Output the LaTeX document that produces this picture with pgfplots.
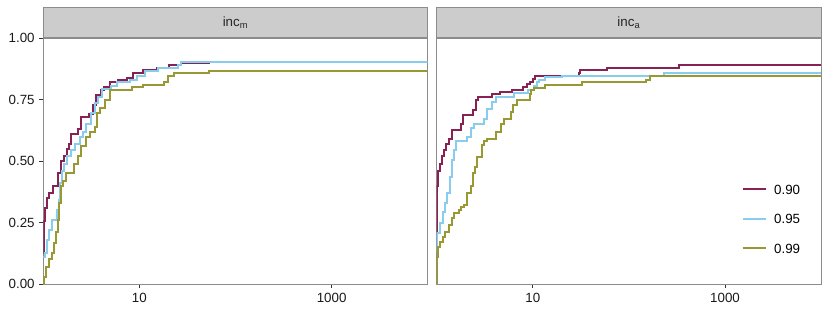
\documentclass[border=0pt]{standalone}
\usepackage{pgfplots}
\pgfplotsset{compat=1.18}
\usepackage{fontspec}
\setmainfont{Liberation Sans}
\definecolor{wine}{HTML}{882255}
\definecolor{cyanl}{HTML}{88CCEE}
\definecolor{olivet}{HTML}{999933}
\definecolor{stripfill}{HTML}{CCCCCC}
\definecolor{bordergray}{HTML}{8C8C8C}
\begin{document}
\begin{tikzpicture}
\path[use as bounding box] (0pt,0pt) rectangle (622.5pt,233.25pt);
\begin{axis}[at={(32.475pt,20.25pt)}, anchor=south west,
    scale only axis, width=288.3pt, height=184.3pt,
    xmode=log, xmin=1, xmax=10000, ymin=0, ymax=1,
    xtick={10,1000}, xticklabels={10,1000}, minor xtick={},
    axis line style={draw=bordergray, line width=0.6pt},
    tick style={draw=black!80, line width=0.6pt},
    tick align=outside, major tick length=3pt,
    xtick pos=bottom, ytick pos=left,
    ticklabel style={font=\fontsize{10}{12}\selectfont, text=black!90},
    every axis title/.style={at={(0.5,1)}, anchor=south, fill=stripfill, draw=bordergray, line width=0.6pt,
      minimum width=288.3pt, minimum height=22.5pt, inner sep=0pt, text=black!85, font=\fontsize{10}{12}\selectfont},
  title={inc\textsubscript{m}},
  ytick={0,0.25,0.5,0.75,1}, yticklabels={0.00,0.25,0.50,0.75,1.00}]
\addplot[const plot, line width=1.5pt, wine] coordinates {(1,0.125)(1.01,0.257)(1.04,0.31)(1.09,0.35)(1.16,0.37)(1.25,0.40)(1.41,0.45)(1.53,0.50)(1.63,0.52)(1.77,0.55)(1.87,0.57)(1.95,0.61)(2.29,0.63)(2.44,0.68)(2.96,0.69)(3.29,0.73)(3.57,0.77)(4.02,0.79)(4.3,0.80)(4.93,0.82)(6.03,0.83)(7.36,0.84)(8.65,0.86)(11.0,0.87)(15.2,0.88)(20.5,0.89)(27.3,0.90)(53.8,0.90)};
\addplot[const plot, line width=1.5pt, cyanl] coordinates {(1,0.11)(1.03,0.125)(1.09,0.18)(1.16,0.22)(1.23,0.26)(1.39,0.30)(1.45,0.34)(1.51,0.41)(1.56,0.46)(1.66,0.49)(1.76,0.52)(1.95,0.545)(2.15,0.57)(2.39,0.60)(2.58,0.62)(2.80,0.65)(3.16,0.695)(3.43,0.735)(3.72,0.76)(4.12,0.795)(5.12,0.805)(5.78,0.82)(7.98,0.83)(9.37,0.845)(11.5,0.867)(15.8,0.881)(25.2,0.89)(27.3,0.904)(10000,0.904)};
\addplot[const plot, line width=1.5pt, olivet] coordinates {(1,0)(1.01,0.03)(1.06,0.07)(1.16,0.10)(1.23,0.125)(1.28,0.165)(1.36,0.21)(1.41,0.26)(1.47,0.33)(1.53,0.40)(1.62,0.42)(1.73,0.45)(2.11,0.49)(2.29,0.52)(2.48,0.56)(2.80,0.60)(3.04,0.62)(3.43,0.64)(3.62,0.695)(3.87,0.715)(4.37,0.75)(4.93,0.79)(8.4,0.80)(11.0,0.81)(17.9,0.822)(19.8,0.846)(22.8,0.857)(53,0.867)(10000,0.867)};
\end{axis}
\begin{axis}[at={(327.525pt,20.25pt)}, anchor=south west,
    scale only axis, width=288.3pt, height=184.3pt,
    xmode=log, xmin=1, xmax=10000, ymin=0, ymax=1,
    xtick={10,1000}, xticklabels={10,1000}, minor xtick={},
    axis line style={draw=bordergray, line width=0.6pt},
    tick style={draw=black!80, line width=0.6pt},
    tick align=outside, major tick length=3pt,
    xtick pos=bottom, ytick=\empty,
    ticklabel style={font=\fontsize{10}{12}\selectfont, text=black!90},
    every axis title/.style={at={(0.5,1)}, anchor=south, fill=stripfill, draw=bordergray, line width=0.6pt,
      minimum width=288.3pt, minimum height=22.5pt, inner sep=0pt, text=black!85, font=\fontsize{10}{12}\selectfont},
  title={inc\textsubscript{a}},
  legend style={at={(0.793,0.265)}, anchor=west, draw=none, fill=none, inner sep=0pt,
    font=\fontsize{10}{12}\selectfont, row sep=15pt,
    nodes={inner sep=0pt, text height=7.2pt, text depth=0pt}},
  legend cell align=left,
  legend image code/.code={\draw[#1] (0pt,0pt) -- (17.25pt,0pt);},
  ]
\addplot[const plot, line width=1.5pt, wine] coordinates {(1,0.21)(1.01,0.40)(1.03,0.46)(1.09,0.49)(1.14,0.52)(1.19,0.545)(1.25,0.57)(1.34,0.59)(1.43,0.626)(1.81,0.653)(1.89,0.687)(2.38,0.707)(2.54,0.748)(2.71,0.76)(3.73,0.772)(4.52,0.782)(6.14,0.79)(7.94,0.80)(8.6,0.812)(9.3,0.822)(10.0,0.833)(10.6,0.846)(30,0.858)(31.3,0.87)(59.3,0.881)(333,0.893)(10000,0.893)};
\addlegendentry{\hspace{5.5pt}0.90}
\addplot[const plot, line width=1.5pt, cyanl] coordinates {(1,0.13)(1.01,0.206)(1.09,0.247)(1.16,0.294)(1.23,0.33)(1.29,0.37)(1.36,0.436)(1.45,0.504)(1.51,0.545)(1.60,0.58)(2.08,0.60)(2.25,0.633)(2.44,0.653)(3.11,0.673)(3.36,0.714)(3.73,0.741)(4.11,0.761)(6.40,0.778)(8.81,0.79)(10.3,0.805)(11.0,0.822)(11.7,0.832)(13.5,0.843)(20.1,0.846)(232,0.857)(10000,0.857)};
\addlegendentry{\hspace{5.5pt}0.95}
\addplot[const plot, line width=1.5pt, olivet] coordinates {(1,0)(1.01,0.11)(1.03,0.152)(1.09,0.172)(1.16,0.192)(1.23,0.213)(1.34,0.24)(1.43,0.267)(1.51,0.287)(1.70,0.30)(1.81,0.314)(1.92,0.32)(2.08,0.37)(2.25,0.40)(2.38,0.45)(2.50,0.477)(2.64,0.518)(2.93,0.565)(3.11,0.58)(3.36,0.59)(4.11,0.62)(4.63,0.653)(5.02,0.673)(5.89,0.70)(6.28,0.728)(6.92,0.748)(9.31,0.775)(9.6,0.791)(10.2,0.798)(13.5,0.809)(32.5,0.82)(150,0.832)(164,0.846)(10000,0.846)};
\addlegendentry{\hspace{5.5pt}0.99}
\end{axis}
\end{tikzpicture}
\end{document}
